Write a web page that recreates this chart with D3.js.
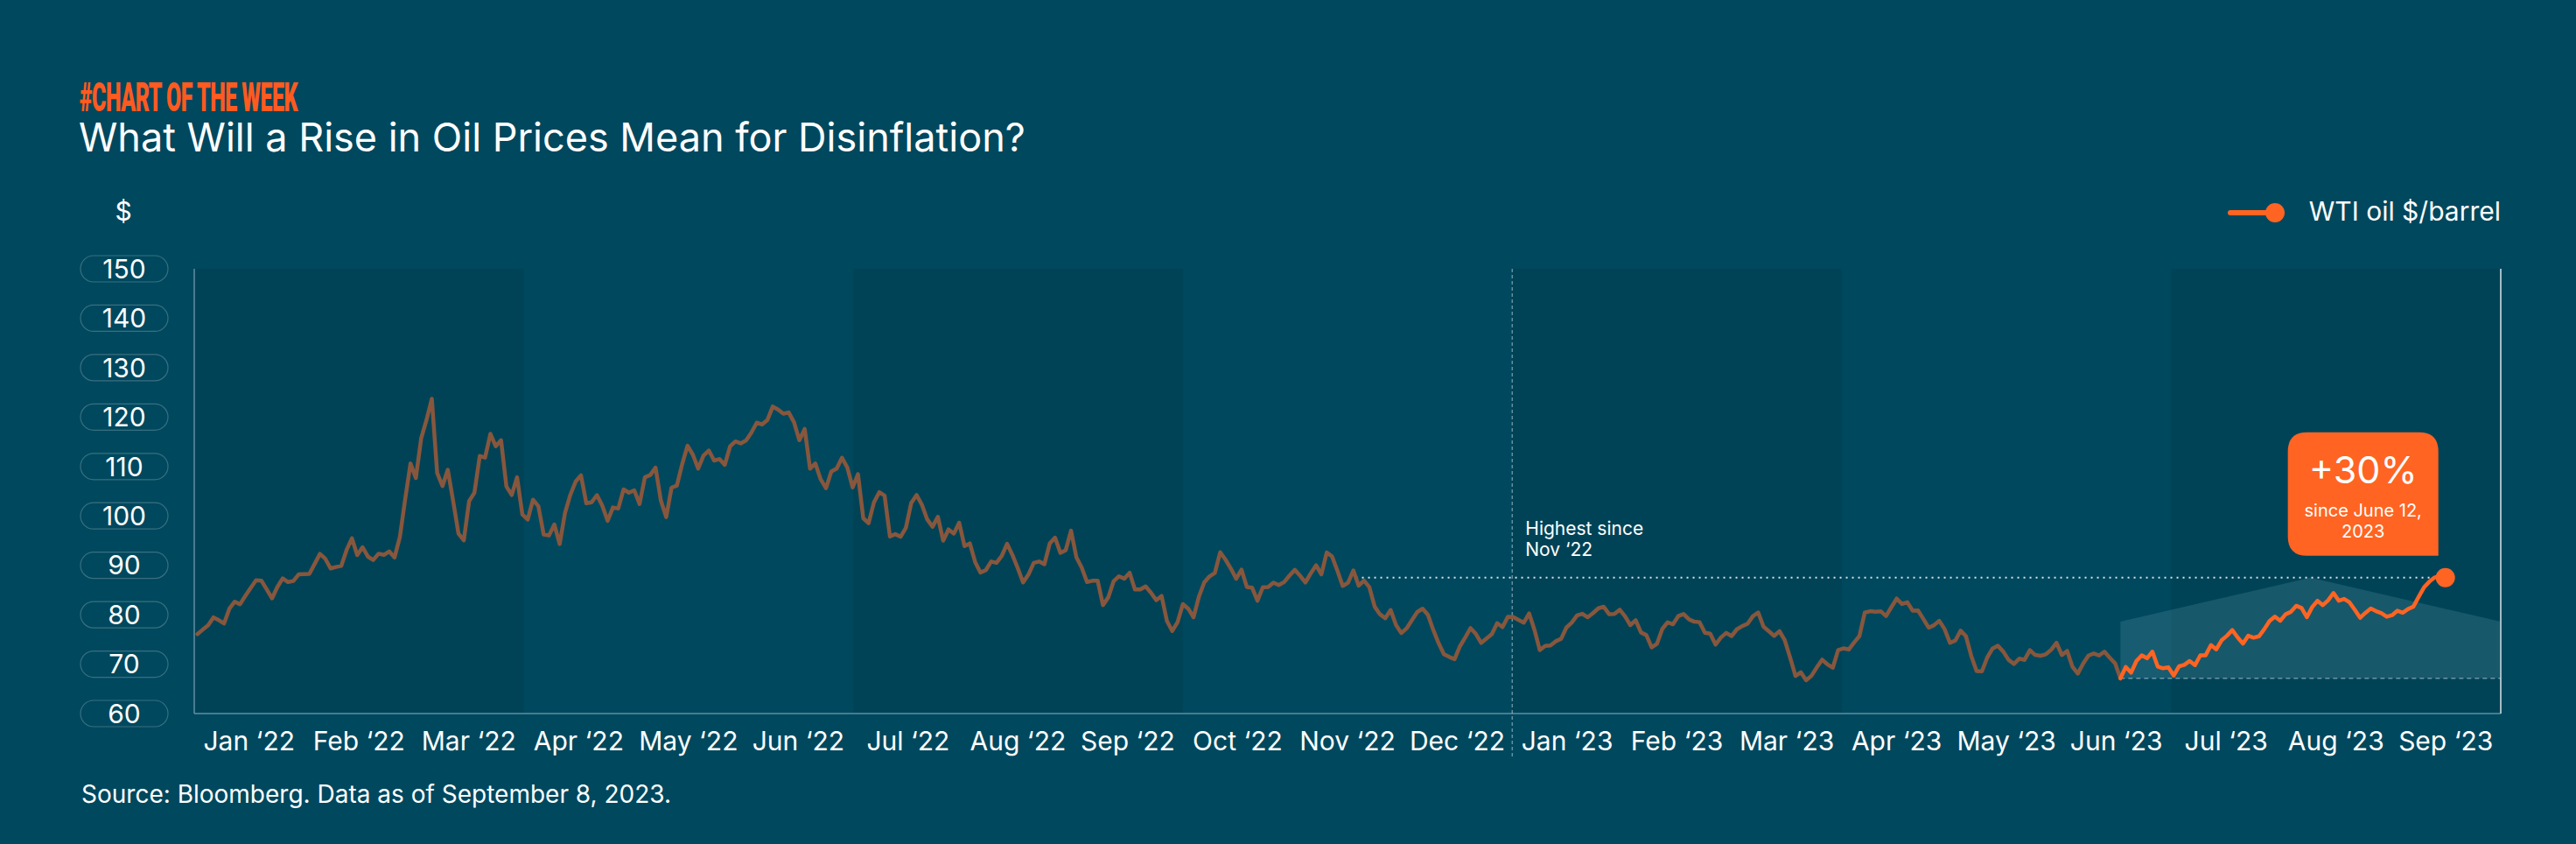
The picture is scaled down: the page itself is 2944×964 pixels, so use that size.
<!DOCTYPE html>
<html>
<head>
<meta charset="utf-8">
<script src="https://cdn.jsdelivr.net/npm/d3@7"></script>
<style>
  html, body { margin: 0; padding: 0; background: #00485e; }
  svg { display: block; }
  text { font-family: Inter, "Noto Sans", sans-serif; fill: #fff; }
</style>
</head>
<body>
<script>
// WTI front month close, one value per trading day
var wti2022 = [
  // Jan
  76.08,76.99,77.85,79.46,78.90,78.23,81.22,82.64,82.12,83.82,85.43,86.96,86.90,85.14,83.31,85.60,87.35,86.61,86.82,88.15,
  // Feb
  88.20,88.26,90.27,92.31,91.32,89.36,89.66,89.88,93.10,95.46,92.07,93.66,91.76,91.07,92.35,92.10,92.81,91.59,95.72,
  // Mar
  103.41,110.60,107.67,115.68,119.40,123.70,108.70,106.02,109.33,103.01,96.44,95.04,102.98,104.70,112.12,111.8,116.6,114.1,115.3,105.96,104.24,107.82,100.28,
  // Apr
  99.27,103.28,101.96,96.23,96.03,98.26,94.29,100.60,104.25,106.95,108.21,102.56,102.75,104.2,102.07,99.0,101.70,101.5,105.36,104.69,
  // May
  105.17,102.41,107.81,108.26,109.77,103.09,99.76,105.71,106.13,110.49,114.20,112.40,109.59,112.21,113.23,111.2,111.5,110.33,114.09,115.07,114.67,
  // Jun
  115.26,116.87,118.87,118.50,119.41,122.11,121.51,120.67,120.93,118.93,115.31,117.59,109.56,110.6,107.4,105.6,109.0,109.57,111.76,109.78,105.76,
  // Jul
  108.43,99.50,98.53,102.73,104.79,104.09,95.84,96.30,95.78,97.59,102.60,104.22,102.26,99.3,97.8,99.8,94.98,97.26,96.42,98.62,
  // Aug
  93.89,94.42,90.66,88.54,89.01,90.76,90.50,91.93,94.34,92.09,89.41,86.53,88.11,90.50,90.77,90.23,94.4,95.6,92.52,93.06,97.01,91.64,89.55,
  // Sep
  86.61,86.87,86.88,81.94,83.54,86.79,87.78,87.31,88.48,85.10,85.11,85.73,84.45,82.94,83.8,78.74,76.71,78.50,82.15,81.23,79.49,
  // Oct
  83.63,86.52,87.76,88.45,92.64,91.13,89.35,87.27,89.11,85.61,85.46,82.82,85.55,85.6,86.5,86.0,86.6,87.91,89.08,87.90,86.53,
  // Nov
  88.37,90.00,88.17,92.61,91.79,88.91,85.83,86.47,88.96,85.87,86.92,85.59,81.64,80.08,79.3,80.95,77.94,76.28,77.24,78.9,80.55,
  // Dec
  81.22,79.98,76.93,74.25,72.01,71.46,71.02,73.6,75.39,77.28,76.11,74.29,75.19,76.09,78.29,77.49,79.56,79.53,78.96,78.40,80.26
];

var wti2023 = [
  // Jan
  76.93,72.84,73.67,73.77,74.63,75.12,77.41,78.39,79.86,80.18,79.48,80.33,81.31,81.62,80.13,80.15,81.01,79.68,77.90,78.87,
  // Feb
  76.41,75.88,73.39,74.11,77.14,78.47,78.06,79.72,80.14,79.06,78.59,78.49,76.34,76.16,73.95,75.39,76.32,75.68,77.05,
  // Mar
  77.69,78.16,79.68,80.46,77.58,76.66,75.72,76.68,74.80,71.33,67.61,68.35,66.74,67.64,69.33,70.90,69.96,69.26,72.81,73.20,72.97,74.37,75.67,
  // Apr
  80.42,80.71,80.61,80.70,79.74,81.53,83.26,82.16,82.52,80.83,80.86,79.16,77.37,77.87,78.76,77.07,74.30,74.76,76.78,
  // May
  75.66,71.66,68.60,68.56,71.34,73.16,73.71,72.56,70.87,70.04,71.11,70.86,72.83,71.86,71.69,71.99,72.91,74.34,71.83,72.67,69.46,68.09,
  // Jun
  70.10,71.74,72.15,71.74,72.53,71.29,70.17,67.12,69.42,68.27,70.62,71.78,71.19,72.53,69.51,69.16,69.37,67.70,69.56,69.86,70.64,
  // Jul
  69.79,71.79,71.80,73.86,72.99,74.83,75.75,76.89,75.42,74.15,75.75,75.35,75.63,77.07,78.74,79.63,78.78,80.09,80.58,81.80,
  // Aug
  81.37,79.49,81.55,82.82,81.94,82.92,84.40,82.82,83.19,82.51,80.99,79.38,80.39,81.25,80.72,80.3,79.6,79.9,80.8,80.4,81.16,81.63,83.63,
  // Sep
  85.55,86.69,87.54,87.87,87.51
];

var monthLabels = ["Jan \u201822","Feb \u201822","Mar \u201822","Apr \u201822","May \u201822","Jun \u201822",
  "Jul \u201822","Aug \u201822","Sep \u201822","Oct \u201822","Nov \u201822","Dec \u201822",
  "Jan \u201823","Feb \u201823","Mar \u201823","Apr \u201823","May \u201823","Jun \u201823",
  "Jul \u201823","Aug \u201823","Sep \u201823"];
var yTicks = [60,70,80,90,100,110,120,130,140,150];

var rallyStart = 361;      // June 12, 2023 (trading-day index)
var shoulderValue = 78.6;  // side height of the shaded rise shape

var wti = wti2022.concat(wti2023);
var data = wti.map(function(v, i){ return {i: i, v: v}; });
var lastPt = data[data.length - 1];
var firstPt = data[rallyStart];

var W = 2944, H = 964;
var plotL = 222, plotR = 2858, plotT = 307, plotB = 815;

var svg = d3.select("body").append("svg").attr("width", W).attr("height", H);
svg.append("rect").attr("width", W).attr("height", H).attr("fill", "#00485e");

var x = d3.scaleLinear().domain([-0.6, 432.4]).range([plotL, plotR]);
var y = d3.scaleLinear().domain([60, 150]).range([plotB, plotT]);
var mx = d3.scaleBand().domain(monthLabels).range([plotL, plotR]);

// darker quarter bands
var qStarts = monthLabels.filter(function(d, i){ return i % 6 == 0; });
svg.selectAll(".band").data(qStarts).enter().append("rect")
  .attr("x", function(d){ return mx(d); })
  .attr("y", plotT)
  .attr("width", function(d){ return Math.min(mx.bandwidth() * 3, plotR - mx(d)); })
  .attr("height", plotB - plotT)
  .attr("fill", "#004357");

// titles
svg.append("text").attr("x", 91).attr("y", 127)
  .attr("textLength", 249).attr("lengthAdjust", "spacingAndGlyphs")
  .style("font-family", "Roboto").style("font-weight", 900).style("font-size", "46px")
  .style("fill", "#ff5a1f").style("letter-spacing", "-1px")
  .text("#CHART OF THE WEEK");
svg.append("text").attr("x", 90).attr("y", 173)
  .style("font-size", "45px")
  .text("What Will a Rise in Oil Prices Mean for Disinflation?");

svg.append("text").attr("x", 141).attr("y", 252).attr("text-anchor", "middle")
  .style("font-size", "30px").text("$");

// legend
svg.append("text").attr("x", plotR).attr("y", 252).attr("text-anchor", "end")
  .style("font-size", "30px").text("WTI oil $/barrel");
svg.append("line").attr("x1", 2549).attr("x2", 2600).attr("y1", 243).attr("y2", 243)
  .attr("stroke", "#ff6422").attr("stroke-width", 6).attr("stroke-linecap", "round");
svg.append("circle").attr("cx", 2600).attr("cy", 243).attr("r", 11).attr("fill", "#ff6422");

// y tick pills
var yt = svg.selectAll(".ytick").data(yTicks).enter().append("g")
  .attr("transform", function(d){ return "translate(142," + y(d) + ")"; });
yt.append("rect").attr("x", -50).attr("y", -15).attr("width", 100).attr("height", 30).attr("rx", 15)
  .attr("fill", "none").attr("stroke", "rgba(255,255,255,0.22)").attr("stroke-width", 1.2);
yt.append("text").attr("text-anchor", "middle").attr("dy", "0.36em")
  .style("font-size", "30px").text(function(d){ return d; });

// month labels
svg.selectAll(".mlab").data(monthLabels).enter().append("text")
  .attr("x", function(d){ return mx(d) + mx.bandwidth() / 2; })
  .attr("y", 857).attr("text-anchor", "middle")
  .style("font-size", "30px").text(function(d){ return d; });

// frame lines
svg.append("line").attr("x1", plotL).attr("x2", plotL).attr("y1", plotT).attr("y2", plotB)
  .attr("stroke", "#5f8fa0").attr("stroke-width", 1.5);
svg.append("line").attr("x1", plotL).attr("x2", plotR).attr("y1", plotB).attr("y2", plotB)
  .attr("stroke", "#5f8fa0").attr("stroke-width", 1.5);
svg.append("line").attr("x1", plotR).attr("x2", plotR).attr("y1", plotT).attr("y2", plotB)
  .attr("stroke", "#a3bcc6").attr("stroke-width", 2);

// vertical marker at Jan '23
var janX = mx(monthLabels[12]);
svg.append("line").attr("x1", janX).attr("x2", janX).attr("y1", plotT).attr("y2", 867)
  .attr("stroke", "rgba(180,205,215,0.55)").attr("stroke-width", 1.5).attr("stroke-dasharray", "4,3");

// shaded rise shape
var xEnd = x.domain()[1];
var peakIdx = (rallyStart + xEnd) / 2;
var shape = [[rallyStart, firstPt.v], [rallyStart, shoulderValue], [peakIdx, lastPt.v],
             [xEnd, shoulderValue], [xEnd, firstPt.v]];
svg.append("path")
  .attr("d", d3.line().x(function(d){ return x(d[0]); }).y(function(d){ return y(d[1]); })(shape) + "Z")
  .attr("fill", "rgba(120,175,190,0.2)");
svg.append("line").attr("x1", x(rallyStart)).attr("x2", plotR).attr("y1", y(firstPt.v)).attr("y2", y(firstPt.v))
  .attr("stroke", "rgba(200,220,228,0.5)").attr("stroke-width", 1.5).attr("stroke-dasharray", "5,4");

// "highest since" dotted line: starts where price last crossed the latest level
var k = rallyStart;
while (k > 0 && !(wti[k] >= lastPt.v)) k--;
var cross = k + (wti[k] - lastPt.v) / (wti[k] - wti[k + 1]);
svg.append("line").attr("x1", x(cross)).attr("x2", x(lastPt.i) - 12).attr("y1", y(lastPt.v)).attr("y2", y(lastPt.v))
  .attr("stroke", "rgba(255,255,255,0.85)").attr("stroke-width", 2).attr("stroke-dasharray", "2,5");

svg.append("text").attr("x", janX + 15).attr("y", y(lastPt.v) - 49)
  .style("font-size", "21px").text("Highest since");
svg.append("text").attr("x", janX + 15).attr("y", y(lastPt.v) - 25)
  .style("font-size", "21px").text("Nov \u201822");

// price line
var line = d3.line().x(function(d){ return x(d.i); }).y(function(d){ return y(d.v); });
svg.append("path").datum(data.slice(0, rallyStart + 1)).attr("d", line)
  .attr("fill", "none").attr("stroke", "#87573d").attr("stroke-width", 4.5)
  .attr("stroke-linejoin", "round").attr("stroke-linecap", "round");
svg.append("path").datum(data.slice(rallyStart)).attr("d", line)
  .attr("fill", "none").attr("stroke", "#ff6422").attr("stroke-width", 4.5)
  .attr("stroke-linejoin", "round").attr("stroke-linecap", "round");
svg.append("circle").attr("cx", x(lastPt.i)).attr("cy", y(lastPt.v)).attr("r", 11).attr("fill", "#ff6422");

// callout
var ex = x(lastPt.i), ey = y(lastPt.v);
var bx1 = ex - 180, bx2 = ex - 8, by1 = ey - 166, by2 = ey - 25, r = 22;
svg.append("path")
  .attr("d", "M" + (bx1 + r) + "," + by1 + " H" + (bx2 - r) + " Q" + bx2 + "," + by1 + " " + bx2 + "," + (by1 + r) +
    " V" + by2 + " H" + (bx1 + r) + " Q" + bx1 + "," + by2 + " " + bx1 + "," + (by2 - r) +
    " V" + (by1 + r) + " Q" + bx1 + "," + by1 + " " + (bx1 + r) + "," + by1 + "Z")
  .attr("fill", "#ff6422");
var pct = Math.round((lastPt.v / firstPt.v - 1) * 100);
var cx = (bx1 + bx2) / 2;
svg.append("text").attr("x", cx).attr("y", by1 + 58).attr("text-anchor", "middle")
  .style("font-size", "43px").text("+" + pct + "%");
svg.append("text").attr("x", cx).attr("y", by1 + 96).attr("text-anchor", "middle")
  .style("font-size", "20px").text("since June 12,");
svg.append("text").attr("x", cx).attr("y", by1 + 120).attr("text-anchor", "middle")
  .style("font-size", "20px").text("2023");

// source
svg.append("text").attr("x", 93).attr("y", 917)
  .style("font-size", "28px").text("Source: Bloomberg. Data as of September 8, 2023.");
</script>
</body>
</html>
